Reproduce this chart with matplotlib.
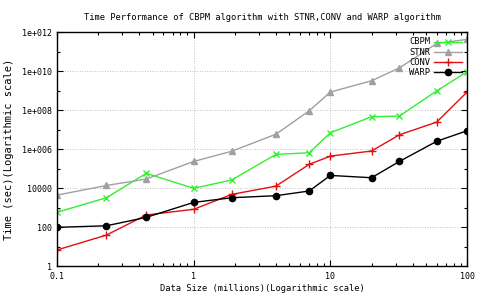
import matplotlib
matplotlib.use("Agg")
import matplotlib.pyplot as plt
import matplotlib.ticker as mticker
import numpy as np

data_size = [0.1, 0.23, 0.45, 1, 1.9, 4, 7, 10, 20, 32, 60, 100]
cbpm = [590, 3.3e3, 5.9e4, 1.0e4, 2.7e4, 5.5e5, 6.7e5, 7.1e6, 4.7e7, 5.1e7, 1.0e9, 9.5e9]
stnr = [4.5e3, 1.4e4, 3.0e4, 2.4e5, 8.0e5, 6.0e6, 9.5e7, 8.7e8, 3.3e9, 1.5e10, 2.7e11, 4.4e11]
conv = [6.9, 40, 430, 840, 4.9e3, 1.3e4, 1.7e5, 4.5e5, 8.2e5, 5.6e6, 2.5e7, 8.7e8]
warp = [100, 120, 325, 1.9e3, 3.3e3, 4.2e3, 7.3e3, 4.6e4, 3.5e4, 2.4e5, 2.6e6, 9.0e6]

series_names = ["CBPM", "STNR", "CONV", "WARP"]
y_major = [1, 1e2, 1e4, 1e6, 1e8, 1e10, 1e12]
y_labels = ["1", "100", "10000", "1e+006", "1e+008", "1e+010", "1e+012"]
x_major = [0.1, 1, 10, 100]
x_labels = ["0.1", "1", "10", "100"]

font = "DejaVu Sans Mono"
plt.rcParams['font.family'] = [font]

fig = plt.figure(figsize=(4.81, 3.0), dpi=100)
ax = fig.add_axes([0.1185, 0.1123, 0.8525, 0.7797])

styles = [
    dict(color="#33ee33", marker="x", markersize=5),
    dict(color="#a0a0a0", marker="^", markersize=4),
    dict(color="#e01010", marker="+", markersize=6),
    dict(color="black", marker="o", markersize=4.5),
]
for name, vals, st in zip(series_names, [cbpm, stnr, conv, warp], styles):
    ax.plot(data_size, vals, lw=1, label=name, **st)

ax.set_xscale("log")
ax.set_yscale("log")
ax.set_xlim(0.1, 100)
ax.set_ylim(1, 1e12)

ax.yaxis.set_major_locator(mticker.FixedLocator(y_major))
ax.yaxis.set_major_formatter(mticker.FixedFormatter(y_labels))
ax.yaxis.set_minor_locator(mticker.FixedLocator([10.0 ** k for k in range(1, 12, 2)]))
ax.yaxis.set_minor_formatter(mticker.NullFormatter())
ax.xaxis.set_major_locator(mticker.FixedLocator(x_major))
ax.xaxis.set_major_formatter(mticker.FixedFormatter(x_labels))
ax.xaxis.set_minor_locator(mticker.LogLocator(base=10, subs=np.arange(2, 10)))
ax.xaxis.set_minor_formatter(mticker.NullFormatter())

ax.tick_params(which="both", direction="in", top=True, right=True, labelsize=6)
ax.tick_params(which="major", length=4, width=0.8)
ax.tick_params(which="minor", length=2, width=0.8)
ax.tick_params(axis="x", pad=4)

ax.grid(True, which="major", linestyle=(0, (1, 2)), color="#b0b0b0", linewidth=0.6)
for s in ax.spines.values():
    s.set_linewidth(1.0)

ax.set_title("Time Performance of CBPM algorithm with STNR,CONV and WARP algorithm",
             fontsize=6.3, pad=9)
ax.set_xlabel("Data Size (millions)(Logarithmic scale)", fontsize=6.3, labelpad=2)
ax.set_ylabel("Time (sec)(Logarithmic scale)", fontsize=7.5, labelpad=6)

# gnuplot-style legend: right-aligned labels, sample line to the right
leg_y = [0.960, 0.916, 0.873, 0.830]
for name, st, yy in zip(series_names, styles, leg_y):
    ax.text(0.910, yy, name, transform=ax.transAxes, ha="right", va="center",
            fontsize=6.3)
    ax.plot([0.9195, 0.988], [yy, yy], transform=ax.transAxes, color=st["color"],
            lw=1, clip_on=False)
    ax.plot([0.9537], [yy], transform=ax.transAxes, linestyle="none",
            clip_on=False, **st)

fig.savefig("out.png", dpi=100)
